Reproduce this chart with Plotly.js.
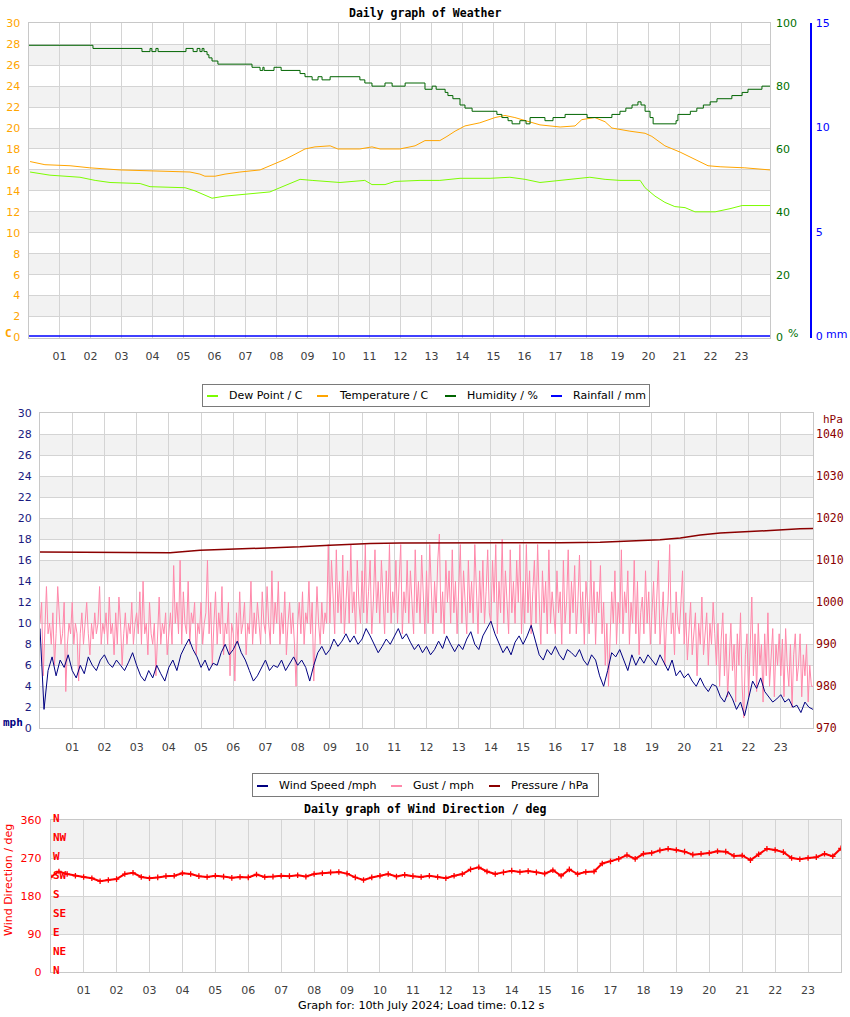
<!DOCTYPE html>
<html><head><meta charset="utf-8">
<script src="https://cdn.plot.ly/plotly-3.0.1.min.js"></script>
<style>html,body{margin:0;padding:0;background:#fff}#chart{width:850px;height:1017px}</style>
</head><body><div id="chart"></div><script>
// ---------------- DATA ----------------
const hourLabels = ['01','02','03','04','05','06','07','08','09','10','11','12','13','14','15','16','17','18','19','20','21','22','23'];

// Chart 1 : weather
const tempTime = [0.05,0.53,1.34,1.98,2.95,4.24,5.21,5.53,5.69,6.02,6.34,6.82,7.47,7.79,8.27,8.6,8.92,9.24,9.73,9.98,10.69,11.08,11.34,11.98,12.47,12.79,13.27,13.5,13.76,14.08,14.56,15.05,15.37,15.69,16.02,16.5,17.15,17.63,17.85,18.27,18.6,18.82,19.4,19.89,20.11,20.53,21.02,21.5,21.92,22.31,23.11,23.92];
const temperature = [16.8,16.5,16.4,16.2,16.0,15.9,15.8,15.6,15.4,15.4,15.6,15.8,16.0,16.4,17.0,17.5,18.0,18.2,18.3,18.0,18.0,18.2,18.0,18.0,18.3,18.8,18.8,19.2,19.7,20.2,20.5,21.0,21.2,21.0,20.7,20.3,20.1,20.2,20.8,21.0,20.6,20.0,19.7,19.5,19.2,18.3,17.7,17.0,16.4,16.3,16.2,16.0];

const dewTime = [0.05,0.69,1.66,2.15,2.63,3.6,3.92,5.05,5.37,5.69,5.92,6.34,6.98,7.79,8.11,8.44,8.76,9.15,10.05,10.85,11.08,11.5,11.82,12.63,13.27,13.92,14.89,15.53,16.02,16.5,17.15,17.63,18.11,18.6,19.08,19.73,19.89,20.21,20.53,20.85,21.18,21.5,22.15,22.63,23.02,23.92];
const dewPoint = [15.8,15.5,15.3,15.0,14.8,14.7,14.4,14.3,14.0,13.6,13.3,13.5,13.7,13.9,14.3,14.7,15.1,15.0,14.8,15.0,14.6,14.6,14.9,15.0,15.0,15.2,15.2,15.3,15.1,14.8,15.0,15.2,15.3,15.1,15.0,15.0,14.3,13.5,12.9,12.5,12.4,12.0,12.0,12.3,12.6,12.6];

const humTime = [0,2.08,3.66,3.92,3.98,4.11,4.18,5.08,5.31,5.44,5.53,5.6,5.66,5.76,5.82,5.92,6.11,7.21,7.47,7.56,7.6,7.92,8.15,8.76,8.92,9.15,9.34,9.47,9.73,10.21,10.69,10.85,11.08,11.5,11.73,12.15,12.79,13.02,13.15,13.44,13.53,13.69,13.92,14.08,14.31,15.11,15.27,15.47,15.6,15.85,16.05,16.18,16.66,16.92,17.31,18.02,18.82,19.08,19.27,19.47,19.66,19.76,19.89,20.05,20.15,20.89,20.95,21.35,21.56,21.77,21.99,22.21,22.69,23.02,23.21,23.66,23.92];
const humidity = [93,92,91,92,91,92,91,92,91,92,91,92,91,90,89,88,87,86,85,86,85,86,85,84,83,82,83,82,83,83,82,81,80,81,80,81,79,80,79,78,77,76,74,73,72,71,70,69,68,69,68,70,69,70,71,70,71,72,73,74,75,74,72,70,68,69,71,72,73,74,75,76,77,78,79,80,80];

const rainTime = [0, 24];
const rainfall = [0, 0];

// Chart 2 : wind speed / gust / pressure
const windStepHours = 0.125;
const windSpeed = [9.5,1.8,5.5,6.8,5.0,6.5,5.8,7.0,
 5.5,4.8,6.0,5.2,6.8,6.0,5.5,6.5,
 7.0,6.2,5.8,6.5,6.0,5.5,6.3,7.2,
 6.0,5.0,4.5,5.5,4.8,6.0,5.2,4.5,
 5.8,6.5,5.5,7.0,7.8,8.5,7.5,6.8,
 5.8,6.5,5.5,6.2,6.0,7.2,8.0,7.0,
 7.5,8.3,7.2,6.5,5.5,4.5,5.0,5.8,
 6.5,5.5,6.0,5.8,6.5,5.5,6.2,6.8,
 6.0,6.5,5.8,4.5,6.0,7.2,7.8,7.0,
 7.5,8.5,7.8,8.3,9.0,8.2,8.8,8.0,
 8.5,9.5,8.8,8.0,7.2,7.8,8.5,8.0,
 8.8,9.5,8.5,9.0,8.2,7.5,8.0,7.2,
 7.8,7.0,7.5,8.3,7.6,8.8,8.0,7.3,
 8.0,7.5,8.5,9.2,8.0,7.5,8.8,9.5,
 10.2,9.0,8.0,7.2,7.8,7.0,8.2,8.8,
 8.0,8.8,9.8,8.5,7.0,6.5,7.5,7.0,
 7.8,7.0,6.5,7.5,7.2,6.8,7.5,6.5,
 6.0,7.0,6.5,5.0,4.0,5.5,7.2,6.8,
 7.5,6.5,5.5,7.0,6.0,6.8,6.2,7.0,
 6.5,6.0,7.0,6.3,5.5,6.5,5.0,5.5,
 4.8,5.2,4.5,4.0,4.8,4.0,3.5,4.2,
 4.0,3.0,2.5,3.5,2.8,1.8,2.5,1.2,
 3.0,4.5,3.8,4.8,3.5,3.0,2.5,2.8,
 3.2,2.5,2.8,2.0,2.2,1.5,2.5,2.0,
 1.8];

const gustStepHours = 0.05;
const gust = [
 10,12,5,9,13.5,9,10,8,11,6,9,13.5,10,8,9,12,3.5,8,10,9,
 12,8,10,9,4.5,9,11,8,10,12,9,7,10,8.5,11,9,10,13.5,8,10,
 9,11,8,12.5,9,10,7,11,8,12.5,10,6,9,11,8,10,9,12,8,10,
 11,9,13,8,14,9,10,7,12,9,8,10,5,9,12.5,8,10,9,11,7,
 9,11,8,15.5,10,12,9,16,8,13,10,9,14,8,11,10,12,7,10,9,
 12,8,10,11,16,9,12,6,10,13,8,11,9,13.5,7,10,9,12,5,10,
 9,4.5,11,8,13,9,10,12,7,10,9,14,8,11,9,12,10,8,13,10,
 9,13.5,10,8,15,9,12,10,14,8,11,9,13,7,10,12,9,11,8,4,
 10,12,9,13,8,11,10,14,9,12,4.5,9,13.5,10,8,12,9,11,10,17.5,
 10,16,12,9,17,11,14,10,16.5,9,12,15,10,17.5,11,13,9,16,12,10,
 15,11,17.5,10,13,16,9,12,17,11,14,10,16,12,9,15,11,17.5,10,13,
 11,16,10,14,17.5,9,13,11,16,10,15,12,9,17,11,14,10,16.5,12,9,
 15,10,17.5,12,9,14,11,16,18.5,10,13,9,16,12,15,10,17,11,14,9,
 13,17.5,10,15,12,9,16,11,14,10,17.5,12,9,15,11,16,10,13,17,11,
 10,16,12,17.5,9,14,11,18,10,15,12,9,17,11,14,10,16,12,17.5,9,
 14,10,17.5,11,15,9,13,16,10,17.5,12,8,15,11,14,9,17,10,13,11,
 9,15,11,13,8,16,10,12,17,9,14,11,15.5,9,12,16.5,10,13,8,14,
 12,9,16,10,14,8,13,11,15.5,9,12,6,10,4,9,13,10,15,8,12,
 10,17,9,13,11,15,8,12,10,16,9,14,7,11,12.5,9,15,10,13,8,
 11,14,9,12,16,8,11,13,6,10,12,17.5,9,11,7,13,10,9,12,15,
 8,11,6.5,10,12,7,9,11,5,10,8,12.5,7,9,11,6,10,8,12,9,
 6,10,4,8.5,11,5,9,3,7,10,5.5,8,2.5,9,6,11,4,1,7,9,
 3,8,12.5,5,9,3.5,10,6,8,2.5,9,5,11,4,7,9.5,3,8,6,9,
 5,8.5,3,9.5,6,4,8,2,7,9,4.5,6,9,3,7,5,8,2.5,6,4,
 4];

const pressTime = [0,2.8,4.04,4.97,6.83,8.07,9.0,10.25,11.18,14.91,16.15,17.39,18.63,19.25,19.88,20.5,21.12,21.74,22.67,23.6,24];
const pressure = [1012.0,1011.8,1011.8,1012.4,1012.8,1013.2,1013.6,1014.0,1014.1,1014.1,1014.2,1014.3,1014.7,1014.9,1015.3,1016.0,1016.5,1016.8,1017.1,1017.5,1017.6];

// Chart 3 : wind direction
const dirStepHours = 0.25;
const windDir = [225,238,232,228,225,222,215,218,220,232,235,225,222,224,227,228,
 234,232,227,225,228,226,223,225,224,231,225,226,228,227,229,226,
 232,234,236,237,233,224,218,224,228,232,226,230,227,225,228,225,
 222,228,232,243,248,238,232,236,240,237,239,236,233,241,228,243,
 232,237,238,257,262,268,277,268,280,282,288,292,289,285,278,280,
 282,286,285,275,276,265,279,292,289,284,270,267,270,272,280,274,
 293];
const dirStrayTime = [15.52, 17.07];
const dirStray = [-99, -99];

const compassLabels = ['N','NE','E','SE','S','SW','W','NW','N'];
const compassDeg = [0,45,90,135,180,225,270,315,360];

// ---------------- LAYOUT HELPERS ----------------
const W = 850, H = 1017;
const px = p => p / W;
const py = p => 1 - p / H;
const range = (n, step) => Array.from({length: n}, (_, i) => i * step);

const windTime = range(windSpeed.length, windStepHours);
const gustTime = range(gust.length, gustStepHours);
const dirTime = range(windDir.length, dirStepHours);
const hourVals = hourLabels.map((_, i) => i + 1);

const GRID = '#d4d4d4', BAND = '#f2f2f2', FRAME = '#c8c8c8';
const TF = 'DejaVu Sans';
const MONO = 'DejaVu Sans Mono';

function xAxis(domain, rng, anchor) {
  return {domain, range: rng, anchor, tickvals: hourVals, ticktext: hourLabels,
    showgrid: true, gridcolor: GRID, gridwidth: 1, zeroline: false,
    showline: true, linecolor: FRAME, linewidth: 1, mirror: true, ticks: '',
    ticklabelstandoff: 8, tickfont: {family: TF, size: 11, color: '#404040'}, fixedrange: true};
}

const traces = [
  {x: dewTime, y: dewPoint, xaxis: 'x', yaxis: 'y', mode: 'lines', line: {color: '#7cfc00', width: 1}, name: 'Dew Point / C'},
  {x: tempTime, y: temperature, xaxis: 'x', yaxis: 'y', mode: 'lines', line: {color: '#ffa500', width: 1}, name: 'Temperature / C'},
  {x: humTime, y: humidity, xaxis: 'x', yaxis: 'y2', mode: 'lines', line: {color: '#006400', width: 1, shape: 'hv'}, name: 'Humidity / %'},
  {x: rainTime, y: rainfall, xaxis: 'x', yaxis: 'y3', mode: 'lines', line: {color: '#0000ff', width: 1.6}, name: 'Rainfall / mm'},
  {x: gustTime, y: gust, xaxis: 'x2', yaxis: 'y4', mode: 'lines', line: {color: '#ff88aa', width: 1}, name: 'Gust / mph'},
  {x: windTime, y: windSpeed, xaxis: 'x2', yaxis: 'y4', mode: 'lines', line: {color: '#000080', width: 1}, name: 'Wind Speed /mph'},
  {x: pressTime, y: pressure, xaxis: 'x2', yaxis: 'y5', mode: 'lines', line: {color: '#8b0000', width: 1.5}, name: 'Pressure / hPa'},
  {x: dirTime, y: windDir, xaxis: 'x3', yaxis: 'y6', mode: 'lines+markers', line: {color: '#ff0000', width: 2},
   marker: {symbol: 'cross-thin', size: 4, line: {color: '#ff0000', width: 1.3}}, name: 'Wind Direction'},
  {x: dirStrayTime, y: dirStray, xaxis: 'x3', yaxis: 'y6', mode: 'markers', cliponaxis: false,
   marker: {symbol: 'cross-thin', size: 4, line: {color: '#ff0000', width: 1.3}}, name: 'stray'}
];

// Bands
const shapes = [];
for (let v = 2; v < 30; v += 4) {
  shapes.push({type: 'rect', xref: 'x', yref: 'y', x0: 0, x1: 23.92, y0: v, y1: v + 2, fillcolor: BAND, line: {width: 0}, layer: 'below'});
  shapes.push({type: 'rect', xref: 'x2', yref: 'y4', x0: 0, x1: 24, y0: v, y1: v + 2, fillcolor: BAND, line: {width: 0}, layer: 'below'});
}
[90, 270].forEach(v => shapes.push({type: 'rect', xref: 'x3', yref: 'y6', x0: 0, x1: 24, y0: v, y1: v + 90, fillcolor: BAND, line: {width: 0}, layer: 'below'}));

const ann = [];
function txt(x, y, text, opts) {
  ann.push(Object.assign({xref: 'paper', yref: 'paper', x: px(x), y: py(y), text, showarrow: false,
    xanchor: 'left', yanchor: 'middle', font: {family: TF, size: 11, color: '#000'}}, opts || {}));
}
// titles
txt(425, 13, '<b>Daily graph of Weather</b>', {xanchor: 'center', font: {family: MONO, size: 11.5, color: '#000'}});
txt(425, 809, '<b>Daily graph of Wind Direction / deg</b>', {xanchor: 'center', font: {family: MONO, size: 11.5, color: '#000'}});
txt(421, 1005, 'Graph for: 10th July 2024; Load time: 0.12 s', {xanchor: 'center', font: {family: TF, size: 11.2, color: '#000'}});

// units
txt(3, 333, '<b>C</b>', {font: {family: MONO, size: 11, color: '#ffa500'}});
txt(786, 333, '%', {font: {family: TF, size: 11, color: '#007000'}});
txt(824, 334, 'mm', {font: {family: TF, size: 11, color: '#0000ff'}});
txt(1, 722, '<b>mph</b>', {font: {family: MONO, size: 11, color: '#000080'}});
txt(821, 419, 'hPa', {font: {family: MONO, size: 11, color: '#8b0000'}});
txt(8, 880, 'Wind Direction / deg', {xanchor: 'center', textangle: -90, font: {family: TF, size: 11, color: '#ff0000'}});

// legends (box, swatches, labels)
function legend(x0, y0, w, h, items) {
  ann.push({xref: 'paper', yref: 'paper', x: px(x0), y: py(y0), xanchor: 'left', yanchor: 'top', text: ' ',
    width: w, height: h, bgcolor: '#ffffff', bordercolor: '#7a7a7a', borderwidth: 1, borderpad: 0, showarrow: false, font: {size: 1}});
  items.forEach(it => {
    ann.push({xref: 'paper', yref: 'paper', x: px(it.x - 20), y: py(y0 + h / 2 + 1.5), xanchor: 'left', yanchor: 'middle', text: ' ',
      width: 11, height: 2, bgcolor: it.color, borderwidth: 0, borderpad: 0, showarrow: false, font: {size: 1}});
    txt(it.x, y0 + h / 2 + 1, it.name);
  });
}
legend(202, 384, 446, 21, [
  {x: 227, name: traces[0].name, color: '#7cfc00'},
  {x: 337, name: traces[1].name, color: '#ffa500'},
  {x: 465, name: traces[2].name, color: '#006400'},
  {x: 571, name: traces[3].name, color: '#0000ff'}
]);
legend(252, 773, 345, 22, [
  {x: 277, name: traces[5].name, color: '#000080'},
  {x: 411, name: traces[4].name, color: '#ff88aa'},
  {x: 509, name: traces[6].name, color: '#8b0000'}
]);

// compass labels
compassLabels.forEach((c, i) => ann.push({xref: 'paper', yref: 'y6', x: px(51), y: compassDeg[i], yshift: 2, text: '<b>' + c + '</b>',
  showarrow: false, xanchor: 'left', yanchor: 'middle', font: {family: MONO, size: 11, color: '#ff0000'}}));

const layout = {
  width: W, height: H, margin: {l: 0, r: 0, t: 0, b: 0}, paper_bgcolor: '#fff', plot_bgcolor: '#fff',
  showlegend: false, shapes, annotations: ann,
  xaxis: xAxis([px(28.5), px(770)], [0, 23.92], 'y'),
  yaxis: {domain: [py(337.5), py(23.3)], range: [0, 30], dtick: 2, showgrid: true, gridcolor: GRID, zeroline: false,
    showline: true, linecolor: FRAME, mirror: true, ticks: '', ticklabelstandoff: 5,
    tickfont: {family: TF, size: 11, color: '#ffa500'}, fixedrange: true},
  yaxis2: {overlaying: 'y', side: 'right', anchor: 'x', range: [0, 100], dtick: 20, showgrid: false, zeroline: false,
    ticks: '', ticklabelstandoff: 5, tickfont: {family: TF, size: 11, color: '#007000'}, fixedrange: true},
  yaxis3: {overlaying: 'y', side: 'right', anchor: 'free', position: px(810), range: [-0.07, 15], tickvals: [0, 5, 10, 15], showgrid: false,
    zeroline: false, showline: true, linecolor: '#0000ff', linewidth: 1.5, ticks: '', ticklabelstandoff: 2,
    tickfont: {family: TF, size: 11, color: '#0000ff'}, fixedrange: true},
  xaxis2: xAxis([px(40), px(813)], [0, 24], 'y4'),
  yaxis4: {domain: [py(728.3), py(413.3)], anchor: 'x2', range: [0, 30], dtick: 2, showgrid: true, gridcolor: GRID, zeroline: false,
    showline: true, linecolor: FRAME, mirror: true, ticks: '', ticklabelstandoff: 5,
    tickfont: {family: TF, size: 11, color: '#1a1a80'}, fixedrange: true},
  yaxis5: {overlaying: 'y4', side: 'right', anchor: 'x2', range: [970, 1045], tickvals: [970,980,990,1000,1010,1020,1030,1040],
    showgrid: false, zeroline: false, ticks: '', ticklabelstandoff: 2,
    tickfont: {family: MONO, size: 11.5, color: '#8b0000'}, fixedrange: true},
  xaxis3: xAxis([px(50.7), px(841)], [0, 24], 'y6'),
  yaxis6: {domain: [py(972), py(820)], anchor: 'x3', range: [0, 360], dtick: 90, showgrid: true, gridcolor: GRID, zeroline: false,
    showline: true, linecolor: FRAME, mirror: true, ticks: '', ticklabelstandoff: 6,
    tickfont: {family: TF, size: 11, color: '#ff0000'}, fixedrange: true}
};

Plotly.newPlot('chart', traces, layout, {displayModeBar: false, staticPlot: true});
</script></body></html>
